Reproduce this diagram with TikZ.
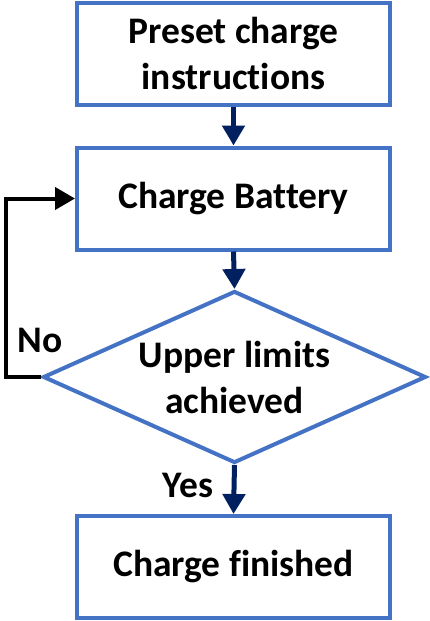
\documentclass[tikz,border=0pt]{standalone}
\usepackage{fontspec}
\setmainfont{Carlito}[Ligatures={NoCommon}]
\usetikzlibrary{arrows.meta, shapes.geometric}
\definecolor{boxblue}{HTML}{4472C4}
\definecolor{navy}{HTML}{002060}
\tikzset{
  stepbox/.style={rectangle, draw=boxblue, line width=4pt, minimum width=313pt, minimum height=102pt, inner sep=0pt, align=center, font=\fontsize{37.5}{46}\selectfont\bfseries},
  decide/.style={diamond, draw=boxblue, line width=4pt, minimum width=383pt, minimum height=172pt, aspect=2.23, inner sep=0pt, align=center, font=\fontsize{37.5}{46}\selectfont\bfseries},
  flow/.style={-{Triangle[width=22pt,length=20pt]}, line width=5pt, draw=navy},
  back/.style={-{Triangle[width=22pt,length=20pt]}, line width=4pt, draw=black},
  blab/.style={font=\fontsize{37.5}{46}\selectfont\bfseries, inner sep=0pt}
}
\begin{document}
\begin{tikzpicture}[x=1pt, y=-1pt]
	\useasboundingbox (0,0) rectangle (429,621);
	\node[stepbox] (preset) at (233.5,53.5) {Preset charge\\instructions};
	\node[stepbox] (chg) at (233.5,198.5) {Charge Battery};
	\node[decide] (dec) at (234.5,377) {Upper limits\\achieved};
	\node[stepbox] (done) at (233.5,567) {Charge finished};
	% main flow
	\draw[flow] (preset.south) -- (chg.north);
	\draw[flow] (chg.south) -- (dec.north);
	\draw[flow] (dec.south) -- (done.north);
	% loop back when limits not reached
	\coordinate (turn) at (6,377);
	\draw[back] (dec.west) -- (turn) |- (chg.west);
	\node[blab] (no) at (40,340) {No};
	\node[blab] (yes) at (188,485) {Yes};
\end{tikzpicture}
\end{document}
